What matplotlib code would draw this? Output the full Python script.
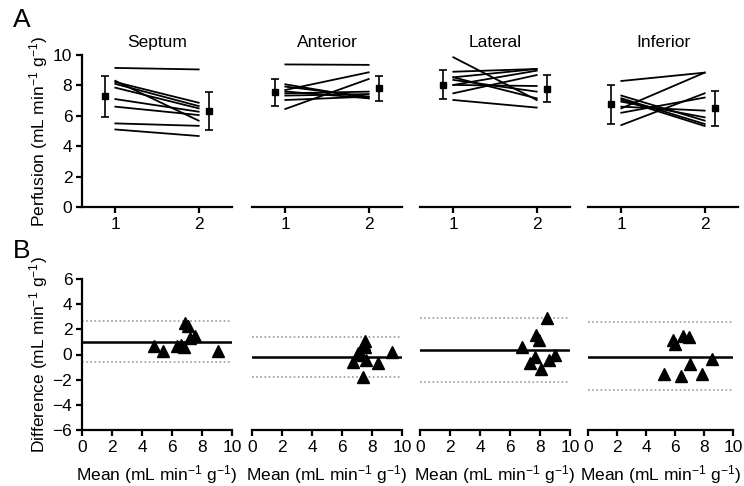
import matplotlib
matplotlib.use("Agg")
import matplotlib.pyplot as plt

plt.rcParams['font.family'] = ['Liberation Sans', 'DejaVu Sans']
plt.rcParams['mathtext.default'] = 'regular'

regions = ["Septum", "Anterior", "Lateral", "Inferior"]

# Panel A: perfusion per subject, scan 1 and scan 2
scan1 = {
    "Septum":   [9.15, 8.30, 8.22, 8.10, 7.85, 7.10, 6.60, 5.50, 5.10],
    "Anterior": [9.38, 7.70, 6.45, 8.07, 7.92, 7.48, 7.33, 7.04, 7.60],
    "Lateral":  [9.85, 7.04, 8.90, 7.48, 8.03, 8.53, 8.36, 8.03, 8.53],
    "Inferior": [8.29, 6.49, 5.39, 7.33, 7.15, 6.93, 7.05, 6.20, 6.60],
}
scan2 = {
    "Septum":   [9.05, 5.68, 6.86, 6.64, 6.49, 6.27, 6.05, 5.34, 4.67],
    "Anterior": [9.35, 8.86, 8.42, 7.15, 7.26, 7.59, 7.43, 7.26, 7.15],
    "Lateral":  [7.04, 6.54, 9.08, 8.68, 8.97, 7.15, 7.59, 7.96, 9.08],
    "Inferior": [8.84, 8.84, 7.48, 5.68, 5.46, 5.90, 5.33, 7.20, 6.34],
}
# group mean and SD for each scan
mean1 = {"Septum": 7.3, "Anterior": 7.55, "Lateral": 8.05, "Inferior": 6.75}
sd1 = {"Septum": 1.35, "Anterior": 0.9, "Lateral": 0.95, "Inferior": 1.3}
mean2 = {"Septum": 6.3, "Anterior": 7.8, "Lateral": 7.78, "Inferior": 6.5}
sd2 = {"Septum": 1.25, "Anterior": 0.85, "Lateral": 0.9, "Inferior": 1.15}

# Panel B: Bland-Altman
ba_mean = {
    "Septum":   [4.77, 5.37, 6.33, 6.78, 6.89, 7.05, 7.22, 7.56, 9.06, 6.60],
    "Anterior": [6.73, 7.06, 7.44, 7.50, 7.62, 7.40, 8.39, 9.32, 7.28, 7.55],
    "Lateral":  [8.44, 7.73, 7.96, 6.78, 7.67, 7.33, 8.04, 8.62, 9.00],
    "Inferior": [5.88, 5.97, 6.55, 6.94, 5.26, 6.42, 7.05, 7.83, 8.55],
}
ba_diff = {
    "Septum":   [0.64, 0.24, 0.64, 0.60, 2.50, 2.28, 1.30, 1.44, 0.24, 0.75],
    "Anterior": [-0.57, 0.08, 0.87, 0.60, -0.44, -1.77, -0.66, 0.22, -0.04, 1.10],
    "Lateral":  [2.87, 1.55, 1.15, 0.62, -0.23, -0.66, -1.19, -0.44, -0.04],
    "Inferior": [1.15, 0.83, 1.47, 1.37, -1.55, -1.71, -0.76, -1.55, -0.38],
}
bias = {"Septum": 1.03, "Anterior": -0.22, "Lateral": 0.36, "Inferior": -0.17}
loa_hi = {"Septum": 2.7, "Anterior": 1.37, "Lateral": 2.92, "Inferior": 2.61}
loa_lo = {"Septum": -0.58, "Anterior": -1.77, "Lateral": -2.17, "Inferior": -2.8}

W, H = 744, 486
fig = plt.figure(figsize=(W / 100, H / 100), dpi=100)

lefts = [82, 252, 420, 588]
widthsA = [150, 150, 150, 150]
widthsB = [150, 150, 150, 145]
unit = r"(mL min$^{-1}$ g$^{-1}$)"
FS = 12.5

for i, r in enumerate(regions):
    # ---- row A ----
    ax = fig.add_axes([lefts[i] / W, 1 - 207 / H, widthsA[i] / W, 152 / H])
    for a, b in zip(scan1[r], scan2[r]):
        ax.plot([1, 2], [a, b], color='black', lw=1.3)
    ax.errorbar([0.88], [mean1[r]], yerr=[sd1[r]], fmt='s', color='black',
                ms=5, capsize=3, elinewidth=1.2, capthick=1.2)
    ax.errorbar([2.12], [mean2[r]], yerr=[sd2[r]], fmt='s', color='black',
                ms=5, capsize=3, elinewidth=1.2, capthick=1.2)
    ax.set_xlim(0.6, 2.4)
    ax.set_ylim(0, 10)
    ax.set_xticks([1, 2])
    ax.set_title(r, fontsize=FS, pad=6)
    for s in ['top', 'right']:
        ax.spines[s].set_visible(False)
    ax.spines['bottom'].set_linewidth(1.6)
    ax.spines['left'].set_linewidth(1.6)
    ax.tick_params(direction='out', width=1.6, length=4, labelsize=FS, pad=3)
    if i == 0:
        ax.set_yticks([0, 2, 4, 6, 8, 10])
        ax.set_ylabel("Perfusion " + unit, fontsize=FS, labelpad=2)
    else:
        ax.spines['left'].set_visible(False)
        ax.set_yticks([])

    # ---- row B ----
    bx = fig.add_axes([lefts[i] / W, 1 - 430 / H, widthsB[i] / W, 151 / H])
    bx.axhline(loa_hi[r], color='#999999', lw=1.2, ls=(0, (1, 1.5)))
    bx.axhline(loa_lo[r], color='#999999', lw=1.2, ls=(0, (1, 1.5)))
    bx.axhline(bias[r], color='black', lw=1.8)
    bx.plot(ba_mean[r], ba_diff[r], '^', color='black', ms=8.5, zorder=3)
    bx.set_xlim(0, 10)
    bx.set_ylim(-6, 6)
    bx.set_xticks([0, 2, 4, 6, 8, 10])
    bx.set_xlabel("Mean " + unit, fontsize=FS, labelpad=6)
    for s in ['top', 'right']:
        bx.spines[s].set_visible(False)
    bx.spines['bottom'].set_linewidth(1.6)
    bx.spines['left'].set_linewidth(1.6)
    bx.tick_params(direction='out', width=1.6, length=4, labelsize=FS, pad=3)
    if i == 0:
        bx.set_yticks([-6, -4, -2, 0, 2, 4, 6])
        bx.set_ylabel("Difference " + unit, fontsize=FS, labelpad=2)
    else:
        bx.spines['left'].set_visible(False)
        bx.set_yticks([])

fig.text(22 / W, 1 - 20 / H, "A", fontsize=19, ha='center', va='center')
fig.text(22 / W, 1 - 251 / H, "B", fontsize=19, ha='center', va='center')

fig.savefig("out.png", dpi=100)
